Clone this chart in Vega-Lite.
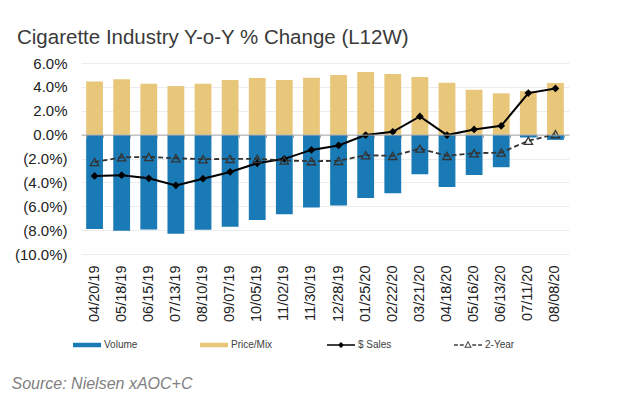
{
  "$schema": "https://vega.github.io/schema/vega-lite/v6.json",
  "autosize": {"type": "none"},
  "padding": {"left": 81, "top": 63, "right": 55, "bottom": 143},
  "width": 488,
  "height": 191,
  "background": "white",
  "title": {"text": "Cigarette Industry Y-o-Y % Change (L12W)", "anchor": "start", "frame": "group", "dx": -64, "dy": 28, "offset": 16, "font": "Liberation Sans", "fontSize": 20.5, "fontWeight": "normal", "color": "#3a3a3a", "baseline": "bottom"},
  "config": {"view": {"stroke": null}, "axisY": {"labelOverlap": false, "labelBound": false, "labelFlush": false}},
  "datasets": {
    "bars": [
      {"date": "04/20/19", "series": "Volume", "value": -7.9}, {"date": "04/20/19", "series": "Price/Mix", "value": 4.44},
      {"date": "05/18/19", "series": "Volume", "value": -8.05}, {"date": "05/18/19", "series": "Price/Mix", "value": 4.63},
      {"date": "06/15/19", "series": "Volume", "value": -7.95}, {"date": "06/15/19", "series": "Price/Mix", "value": 4.27},
      {"date": "07/13/19", "series": "Volume", "value": -8.3}, {"date": "07/13/19", "series": "Price/Mix", "value": 4.07},
      {"date": "08/10/19", "series": "Volume", "value": -7.97}, {"date": "08/10/19", "series": "Price/Mix", "value": 4.27},
      {"date": "09/07/19", "series": "Volume", "value": -7.72}, {"date": "09/07/19", "series": "Price/Mix", "value": 4.58},
      {"date": "10/05/19", "series": "Volume", "value": -7.16}, {"date": "10/05/19", "series": "Price/Mix", "value": 4.75},
      {"date": "11/02/19", "series": "Volume", "value": -6.66}, {"date": "11/02/19", "series": "Price/Mix", "value": 4.58},
      {"date": "11/30/19", "series": "Volume", "value": -6.1}, {"date": "11/30/19", "series": "Price/Mix", "value": 4.76},
      {"date": "12/28/19", "series": "Volume", "value": -5.93}, {"date": "12/28/19", "series": "Price/Mix", "value": 5.0},
      {"date": "01/25/20", "series": "Volume", "value": -5.31}, {"date": "01/25/20", "series": "Price/Mix", "value": 5.25},
      {"date": "02/22/20", "series": "Volume", "value": -4.92}, {"date": "02/22/20", "series": "Price/Mix", "value": 5.08},
      {"date": "03/21/20", "series": "Volume", "value": -3.32}, {"date": "03/21/20", "series": "Price/Mix", "value": 4.83},
      {"date": "04/18/20", "series": "Volume", "value": -4.39}, {"date": "04/18/20", "series": "Price/Mix", "value": 4.35},
      {"date": "05/16/20", "series": "Volume", "value": -3.38}, {"date": "05/16/20", "series": "Price/Mix", "value": 3.76},
      {"date": "06/13/20", "series": "Volume", "value": -2.73}, {"date": "06/13/20", "series": "Price/Mix", "value": 3.46},
      {"date": "07/11/20", "series": "Volume", "value": -0.24}, {"date": "07/11/20", "series": "Price/Mix", "value": 3.65},
      {"date": "08/08/20", "series": "Volume", "value": -0.44}, {"date": "08/08/20", "series": "Price/Mix", "value": 4.33}
    ],
    "lines": [
      {"date": "04/20/19", "series": "$ Sales", "value": -3.46}, {"date": "04/20/19", "series": "2-Year", "value": -2.3},
      {"date": "05/18/19", "series": "$ Sales", "value": -3.4}, {"date": "05/18/19", "series": "2-Year", "value": -1.9},
      {"date": "06/15/19", "series": "$ Sales", "value": -3.66}, {"date": "06/15/19", "series": "2-Year", "value": -1.87},
      {"date": "07/13/19", "series": "$ Sales", "value": -4.25}, {"date": "07/13/19", "series": "2-Year", "value": -1.98},
      {"date": "08/10/19", "series": "$ Sales", "value": -3.69}, {"date": "08/10/19", "series": "2-Year", "value": -2.06},
      {"date": "09/07/19", "series": "$ Sales", "value": -3.13}, {"date": "09/07/19", "series": "2-Year", "value": -2.03},
      {"date": "10/05/19", "series": "$ Sales", "value": -2.4}, {"date": "10/05/19", "series": "2-Year", "value": -2.03},
      {"date": "11/02/19", "series": "$ Sales", "value": -2.03}, {"date": "11/02/19", "series": "2-Year", "value": -2.17},
      {"date": "11/30/19", "series": "$ Sales", "value": -1.28}, {"date": "11/30/19", "series": "2-Year", "value": -2.22},
      {"date": "12/28/19", "series": "$ Sales", "value": -0.91}, {"date": "12/28/19", "series": "2-Year", "value": -2.2},
      {"date": "01/25/20", "series": "$ Sales", "value": -0.04}, {"date": "01/25/20", "series": "2-Year", "value": -1.72},
      {"date": "02/22/20", "series": "$ Sales", "value": 0.24}, {"date": "02/22/20", "series": "2-Year", "value": -1.78},
      {"date": "03/21/20", "series": "$ Sales", "value": 1.52}, {"date": "03/21/20", "series": "2-Year", "value": -1.17},
      {"date": "04/18/20", "series": "$ Sales", "value": -0.04}, {"date": "04/18/20", "series": "2-Year", "value": -1.78},
      {"date": "05/16/20", "series": "$ Sales", "value": 0.43}, {"date": "05/16/20", "series": "2-Year", "value": -1.56},
      {"date": "06/13/20", "series": "$ Sales", "value": 0.74}, {"date": "06/13/20", "series": "2-Year", "value": -1.5},
      {"date": "07/11/20", "series": "$ Sales", "value": 3.48}, {"date": "07/11/20", "series": "2-Year", "value": -0.52},
      {"date": "08/08/20", "series": "$ Sales", "value": 3.87}, {"date": "08/08/20", "series": "2-Year", "value": 0.04}
    ]
  },
  "resolve": {"axis": {"x": "independent"}},
  "layer": [
    {
      "data": {"name": "bars"},
      "mark": {"type": "bar"},
      "encoding": {
        "x": {"field": "date", "type": "nominal", "sort": null,
          "scale": {"paddingInner": 0.38, "paddingOuter": 0.19},
          "axis": {"title": "Source: Nielsen xAOC+C", "titleFont": "Liberation Sans", "titleFontStyle": "italic", "titleFontSize": 16, "titleFontWeight": "normal", "titleColor": "#808080", "titleAnchor": "start", "titleAlign": "left", "titleBaseline": "alphabetic", "titleX": -70, "titleY": 134,
            "labelAngle": -90, "labelFont": "Liberation Sans", "labelFontSize": 14.5, "labelColor": "#222222", "labelPadding": 11, "labelOverlap": false, "ticks": false, "domain": false, "grid": false}},
        "y": {"field": "value", "type": "quantitative",
          "scale": {"domain": [-10, 6], "nice": false, "zero": false},
          "axis": {"title": null, "values": [-10, -8, -6, -4, -2, 0, 2, 4, 6], "tickCount": 9, "labelOverlap": false, "labelExpr": "datum.value < 0 ? '(' + format(-datum.value, '.1f') + '%)' : format(datum.value, '.1f') + '%'", "domain": false, "ticks": false, "labelPadding": 14, "labelFont": "Liberation Sans", "labelFontSize": 15, "labelColor": "#222222", "grid": true, "gridColor": "#ececec"}},
        "color": {"field": "series", "type": "nominal",
          "scale": {"domain": ["Volume", "Price/Mix", "$ Sales", "2-Year"], "range": ["#1a7ab5", "#e8c77a", "#000000", "#404040"]},
          "legend": {"title": null, "orient": "none", "legendX": -8, "legendY": 268, "direction": "horizontal", "columns": 4, "gridAlign": "all", "columnPadding": 54, "symbolSize": 784, "labelFont": "Liberation Sans", "labelFontSize": 10, "labelColor": "#404040", "labelOffset": 3, "padding": 0,
            "encode": {"symbols": {"update": {"opacity": {"value": 1}, "fillOpacity": {"value": 1}, "strokeWidth": {"value": 0}, "size": {"value": 784}, "fill": {"scale": "color", "field": "value"}, "shape": {"scale": "shape", "field": "value"}}}}}}
      }
    },
    {
      "data": {"name": "lines"},
      "transform": [{"filter": "datum.series === '$ Sales'"}],
      "mark": {"type": "line", "color": "#000000", "strokeWidth": 2},
      "encoding": {
        "x": {"field": "date", "type": "nominal", "sort": null,
          "axis": {"title": null, "orient": "bottom", "offset": -119.4, "labels": false, "ticks": true, "tickBand": "extent", "tickSize": 3, "tickColor": "#a8a8a8", "domain": true, "domainColor": "#a8a8a8", "domainWidth": 1, "grid": false, "zindex": 1}},
        "y": {"field": "value", "type": "quantitative"}
      }
    },
    {
      "data": {"name": "lines"},
      "transform": [{"filter": "datum.series === '2-Year'"}],
      "mark": {"type": "line", "color": "#333333", "strokeWidth": 1.8, "strokeDash": [5, 3]},
      "encoding": {
        "x": {"field": "date", "type": "nominal", "sort": null, "axis": null},
        "y": {"field": "value", "type": "quantitative"}
      }
    },
    {
      "data": {"name": "lines"},
      "transform": [{"filter": "datum.series === '$ Sales'"}],
      "mark": {"type": "point", "shape": "diamond", "filled": true, "color": "#000000", "size": 60, "opacity": 1},
      "encoding": {
        "x": {"field": "date", "type": "nominal", "sort": null, "axis": null},
        "y": {"field": "value", "type": "quantitative"}
      }
    },
    {
      "data": {"name": "lines"},
      "transform": [{"filter": "datum.series === '2-Year'"}],
      "mark": {"type": "point", "shape": "triangle-up", "filled": false, "color": "#333333", "strokeWidth": 1.3, "size": 70, "opacity": 1},
      "encoding": {
        "x": {"field": "date", "type": "nominal", "sort": null, "axis": null},
        "y": {"field": "value", "type": "quantitative"}
      }
    },
    {
      "data": {"name": "lines"},
      "mark": {"type": "point", "filled": true, "opacity": 0},
      "encoding": {
        "x": {"field": "date", "type": "nominal", "sort": null, "axis": null},
        "y": {"field": "value", "type": "quantitative"},
        "color": {"field": "series", "type": "nominal"},
        "shape": {"field": "series", "type": "nominal",
          "scale": {"domain": ["Volume", "Price/Mix", "$ Sales", "2-Year"],
            "range": ["M-1,-0.16H1V0.16H-1Z", "M-1,-0.16H1V0.16H-1Z", "M-1,-0.05H1V0.05H-1Z M0,-0.22L0.22,0L0,0.22L-0.22,0Z", "M-1,-0.06H-0.72V0.06H-1Z M-0.58,-0.06H-0.3V0.06H-0.58Z M0.3,-0.06H0.58V0.06H0.3Z M0.72,-0.06H1V0.06H0.72Z M0,-0.3L0.27,0.2L-0.27,0.2Z M0,-0.16L-0.15,0.12L0.15,0.12Z"]}}
      }
    }
  ]
}
